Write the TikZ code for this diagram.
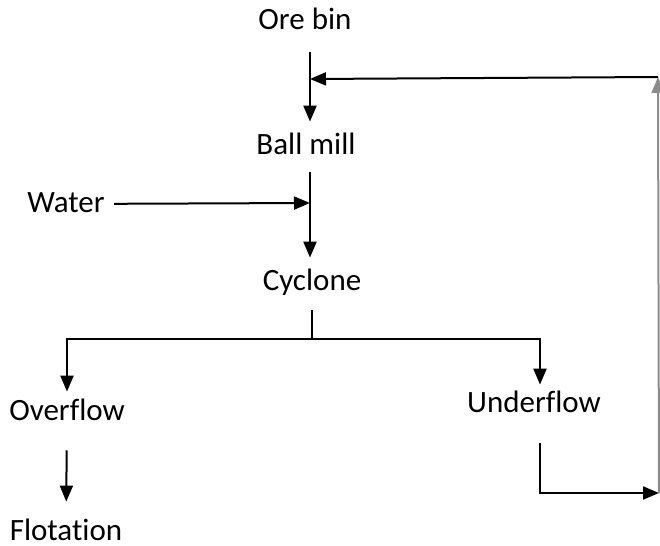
\documentclass[tikz,border=0pt]{standalone}
\usepackage{fontspec}
\setmainfont[Ligatures=NoCommon]{Carlito}
\usetikzlibrary{arrows.meta,calc,positioning}
\tikzset{
>={Triangle[length=8pt,width=6.5pt]},
  stage/.style={
    inner sep=0pt,
    text height=11pt,
    text depth=3pt,
    font=\fontsize{15.5}{18}\selectfont},
  line/.style={draw, line width=1pt, ->},
  flat/.style={draw, line width=1pt},
}

\begin{document}
\begin{tikzpicture}
  [x=0.5pt, y=-0.5pt]
  \useasboundingbox (0,0) rectangle (660,546);
  % the stages
  \node[stage] (orebin) at (305,21) {Ore bin};
  \node[stage] (ballmill) at (306,147) {Ball mill};
  \node[stage] (water) at (66,204) {Water};
  \node[stage] (cyclone) at (312,282) {Cyclone};
  \node[stage] (overflow) at (67,412) {Overflow};
  \node[stage] (underflow) at (534,404) {Underflow};
  \node[stage] (flotation) at (66,532) {Flotation};
  % junctions
  \coordinate (feed) at (310,79);
  \coordinate (mix) at (310,203);
  \coordinate (split) at (312,339);
  \coordinate (ret) at (658,77);
  \coordinate (uf) at (540,404);
  \coordinate (back) at (659,493);
  %% main line
  \draw[line, shorten <=8.5pt, shorten >=5.5pt] (orebin.south -| feed) -- (ballmill.north -| feed);
  \draw[line, shorten <=5.5pt, shorten >=5pt] (ballmill.south -| mix) -- (cyclone.north -| mix);
  \draw[line, shorten <=4.5pt] (water) -- (mix);
  %% cyclone split
  \draw[flat, shorten <=7pt] (cyclone.south -| split) -- (split);
  \draw[line, shorten >=3pt] (split) -| (overflow.north);
  \draw[line, shorten >=2.5pt] (split) -| (underflow.north -| uf);
  \draw[line, shorten <=12pt, shorten >=8pt] (overflow) -- (flotation);
  %% recycle to the mill
  \draw[line, shorten <=12.5pt] (underflow.south -| uf) |- (back);
  \draw[line, draw=black!45] (back) -- (ret);
  \draw[line] (ret) -- (feed);
\end{tikzpicture}
\end{document}
